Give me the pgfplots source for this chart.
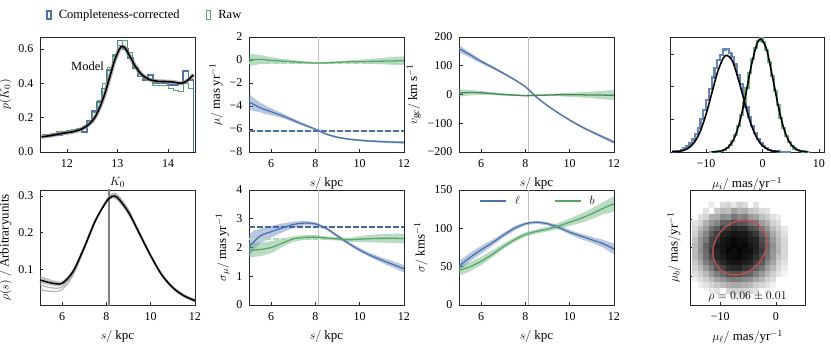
\documentclass[border=0pt]{standalone}
\usepackage{fontspec}
\setmainfont{Liberation Serif}
\usepackage{pgfplots}
\pgfplotsset{compat=1.18}
\usepackage{pgfplotstable}

\definecolor{cBlue}{HTML}{4C72B0}
\definecolor{cGreen}{HTML}{55A868}
\definecolor{cRed}{HTML}{C44E52}

\pgfplotsset{
  panel/.style={
    scale only axis, anchor=south west,
    axis line style={black!85, line width=0.7pt},
    tick align=inside, xtick pos=left, ytick pos=left,
    major tick length=3.5pt,
    tick style={black!85, line width=0.6pt},
    /pgf/number format/assume math mode=true,
    tick label style={font=\fontsize{12}{14}\selectfont},
    xticklabel style={yshift=-4pt},
    yticklabel style={xshift=-3pt},
    label style={font=\fontsize{13}{15}\selectfont},
    xlabel style={yshift=-3pt},
  },
  band/.style={draw=none, fill=#1, fill opacity=0.4, forget plot},
  mid/.style={draw=#1, line width=1.3pt, smooth},
  hline/.style={color=#1, line width=1.8pt, dash pattern=on 5.5pt off 2.5pt},
  vline/.style={draw=black!25, line width=1.3pt, forget plot},
}

\pgfplotstableread{
s muL muB vL vB sL sB kL kB
5.0 -3.65 0.00 160 5 2.02 1.90 51 45
5.5 -4.15 0.05 138 7 2.40 1.93 62 50
6.0 -4.50 -0.03 115 6 2.55 2.00 72 57
6.5 -4.85 -0.10 95 3 2.68 2.15 81 66
7.0 -5.25 -0.16 74 0 2.80 2.30 91 76
7.5 -5.65 -0.22 52 -2 2.85 2.35 100 85
8.0 -6.02 -0.26 27 -4 2.82 2.36 106 92
8.5 -6.45 -0.25 -9 -3 2.66 2.33 108 96
9.0 -6.72 -0.20 -39 -2 2.40 2.30 106 99
9.5 -6.88 -0.16 -65 -1 2.14 2.27 101 103
10.0 -6.98 -0.14 -89 -1 1.91 2.29 95 108
10.5 -7.05 -0.12 -111 -1 1.72 2.31 90 113
11.0 -7.10 -0.10 -130 -2 1.56 2.32 85 119
11.5 -7.14 -0.08 -148 -2 1.41 2.32 80 126
12.0 -7.17 -0.06 -166 -3 1.26 2.31 73 132
}\tLines

\pgfplotstableread{
s c0 c1 c2 c3 c4 c5
5.0 0.071 0.080 0.058 0.045 0.075 0.065
5.5 0.063 0.070 0.050 0.040 0.066 0.058
6.0 0.062 0.066 0.052 0.045 0.063 0.058
6.5 0.095 0.098 0.090 0.085 0.096 0.093
7.0 0.160 0.162 0.158 0.155 0.163 0.160
7.5 0.232 0.234 0.232 0.230 0.236 0.233
8.0 0.284 0.287 0.285 0.288 0.283 0.288
8.25 0.298 0.301 0.300 0.305 0.294 0.303
8.5 0.295 0.297 0.297 0.303 0.289 0.299
9.0 0.255 0.256 0.258 0.262 0.250 0.257
9.5 0.196 0.195 0.199 0.200 0.193 0.196
10.0 0.137 0.135 0.140 0.138 0.136 0.136
10.5 0.085 0.083 0.088 0.085 0.086 0.084
11.0 0.050 0.048 0.053 0.050 0.052 0.049
11.5 0.028 0.026 0.030 0.028 0.031 0.027
12.0 0.015 0.013 0.016 0.014 0.018 0.012
}\tRho

\begin{document}
\begin{tikzpicture}
\useasboundingbox (0pt,0pt) rectangle (831pt,349pt);

% ---------- p(K0)
\begin{axis}[panel, at={(40pt,197pt)}, width=155pt, height=115pt,
  xmin=11.47, xmax=14.53, ymin=0, ymax=0.67,
  xtick={12,13,14}, ytick={0,0.2,0.4,0.6},
  y tick label style={/pgf/number format/.cd, fixed, fixed zerofill, precision=1},
  xlabel={$K_0$}, ylabel={$p(K_0)$},
  legend style={at={(0.61,1.19)}, anchor=center, xshift=10pt, draw=none, fill=none,
    legend columns=2, font=\fontsize{12.5}{14}\selectfont},
]
\addlegendimage{legend image code/.code={\draw[cBlue, line width=2pt] (0pt,-4pt) rectangle (4pt,4pt);}}
\addlegendentry{\rule{5pt}{0pt}Completeness-corrected\rule{24pt}{0pt}}
\addlegendimage{legend image code/.code={\draw[cGreen, line width=1.2pt] (0pt,-4.4pt) rectangle (4.6pt,4.4pt);}}
\addlegendentry{\rule{5pt}{0pt}Raw}
\addplot[cBlue, line width=1.8pt, const plot, forget plot] coordinates {
(11.5,0.09) (11.6,0.095) (11.7,0.10) (11.8,0.10) (11.9,0.11) (12.0,0.115)
(12.1,0.12) (12.2,0.13) (12.3,0.115) (12.4,0.18) (12.5,0.24) (12.6,0.29)
(12.7,0.37) (12.8,0.48) (12.9,0.56) (13.0,0.65) (13.1,0.60) (13.2,0.55)
(13.3,0.49) (13.4,0.44) (13.5,0.42) (13.6,0.45) (13.7,0.40) (13.8,0.40)
(13.9,0.40) (14.0,0.39) (14.1,0.39) (14.2,0.40) (14.3,0.47) (14.4,0.42)
(14.5,0.42) (14.5,0)};
\addplot[cGreen, line width=1pt, const plot, forget plot] coordinates {
(11.5,0.10) (11.6,0.10) (11.7,0.11) (11.8,0.12) (11.9,0.12) (12.0,0.125)
(12.1,0.13) (12.2,0.135) (12.3,0.15) (12.4,0.18) (12.5,0.23) (12.6,0.30)
(12.7,0.40) (12.8,0.49) (12.9,0.57) (13.0,0.62) (13.1,0.65) (13.2,0.58)
(13.3,0.50) (13.4,0.45) (13.5,0.43) (13.6,0.42) (13.7,0.39) (13.8,0.39)
(13.9,0.39) (14.0,0.37) (14.1,0.36) (14.2,0.35) (14.3,0.40) (14.4,0.37)
(14.5,0.37)};
\addplot[black!45, line width=4pt, opacity=0.7, smooth, forget plot] coordinates {
(11.5,0.088) (11.7,0.097) (11.9,0.108) (12.1,0.117) (12.3,0.135) (12.45,0.165)
(12.55,0.20) (12.65,0.26) (12.75,0.34) (12.85,0.44) (12.95,0.54) (13.05,0.605)
(13.1,0.615) (13.15,0.605) (13.25,0.555) (13.35,0.50) (13.45,0.46) (13.55,0.435)
(13.65,0.42) (13.8,0.412) (14.0,0.41) (14.15,0.405) (14.25,0.40) (14.35,0.41)
(14.45,0.435) (14.5,0.45)};
\addplot[black, line width=1.6pt, smooth, forget plot] coordinates {
(11.5,0.088) (11.7,0.097) (11.9,0.108) (12.1,0.117) (12.3,0.135) (12.45,0.165)
(12.55,0.20) (12.65,0.26) (12.75,0.34) (12.85,0.44) (12.95,0.54) (13.05,0.605)
(13.1,0.615) (13.15,0.605) (13.25,0.555) (13.35,0.50) (13.45,0.46) (13.55,0.435)
(13.65,0.42) (13.8,0.412) (14.0,0.41) (14.15,0.405) (14.25,0.40) (14.35,0.41)
(14.45,0.435) (14.5,0.45)};
\node[anchor=east, font=\fontsize{12.5}{14}\selectfont] at (axis cs:12.8,0.50) {Model};
\end{axis}

% ---------- mu vs s
\begin{axis}[panel, at={(249pt,197pt)}, width=155pt, height=115pt,
  xmin=5, xmax=12, ymin=-8, ymax=2,
  xtick={6,8,10,12}, ytick={-8,-6,-4,-2,0,2}, yticklabels={−8,−6,−4,−2,0,2},
  xlabel={$s/\ \mathrm{kpc}$}, ylabel={$\mu/\ \mathrm{mas\,yr^{-1}}$}]
\addplot[vline] coordinates {(8.15,-8) (8.15,2)};
\addplot[band=cBlue] coordinates {
(5.0,-2.95) (5.25,-3.35) (5.5,-3.70) (5.75,-3.95) (6.0,-4.20) (6.5,-4.62) (7.0,-5.08)
(7.5,-5.52) (8.0,-5.94) (8.5,-6.37) (9.0,-6.64) (9.5,-6.80) (10.0,-6.90) (10.5,-6.96)
(11.0,-7.00) (11.5,-7.04) (12.0,-7.06)
(12.0,-7.28) (11.5,-7.24) (11.0,-7.20) (10.5,-7.14) (10.0,-7.06) (9.5,-6.96) (9.0,-6.80)
(8.5,-6.53) (8.0,-6.10) (7.5,-5.77) (7.0,-5.40) (6.5,-5.05) (6.0,-4.80) (5.75,-4.70)
(5.5,-4.55) (5.25,-4.45) (5.0,-4.30)};
\addplot[band=cGreen] coordinates {
(5.0,0.55) (5.5,0.45) (6.0,0.25) (6.5,0.10) (7.0,0.00) (7.5,-0.12) (8.0,-0.18) (8.5,-0.17)
(9.0,-0.10) (9.5,-0.04) (10.0,0.02) (10.5,0.10) (11.0,0.18) (11.5,0.26) (12.0,0.33)
(12.0,-0.45) (11.5,-0.42) (11.0,-0.38) (10.5,-0.34) (10.0,-0.30) (9.5,-0.28) (9.0,-0.30)
(8.5,-0.33) (8.0,-0.34) (7.5,-0.32) (7.0,-0.30) (6.5,-0.30) (6.0,-0.30) (5.5,-0.35) (5.0,-0.55)};
\addplot[hline=cBlue] coordinates {(5,-6.2) (12,-6.2)};
\addplot[hline=cGreen!45!white] coordinates {(5,-0.27) (12,-0.27)};
\addplot[mid=cBlue] table[x=s,y=muL]{\tLines};
\addplot[mid=cGreen] table[x=s,y=muB]{\tLines};
\end{axis}

% ---------- v_gc vs s
\begin{axis}[panel, at={(459pt,197pt)}, width=155pt, height=115pt,
  xmin=5, xmax=12, ymin=-200, ymax=200,
  xtick={6,8,10,12}, ytick={-200,-100,0,100,200}, yticklabels={−200,−100,0,100,200},
  xlabel={$s/\ \mathrm{kpc}$}, ylabel={$v_{\mathrm{gc}}/\ \mathrm{km\,s^{-1}}$}]
\addplot[vline] coordinates {(8.15,-200) (8.15,200)};
\addplot[band=cBlue] coordinates {
(5.0,172) (5.5,146) (6.0,121) (6.5,100) (7.0,78) (7.5,55) (8.0,30) (8.5,-6) (9.0,-36)
(9.5,-62) (10.0,-86) (10.5,-107) (11.0,-126) (11.5,-143) (12.0,-160)
(12.0,-172) (11.5,-153) (11.0,-134) (10.5,-115) (10.0,-92) (9.5,-68) (9.0,-42) (8.5,-12)
(8.0,24) (7.5,49) (7.0,70) (6.5,90) (6.0,108) (5.5,128) (5.0,148)};
\addplot[band=cGreen] coordinates {
(5.0,18) (5.5,16) (6.0,12) (6.5,8) (7.0,4) (7.5,1) (8.0,-1) (8.5,0) (9.0,2) (9.5,4)
(10.0,6) (10.5,8) (11.0,10) (11.5,13) (12.0,16)
(12.0,-20) (11.5,-16) (11.0,-13) (10.5,-10) (10.0,-8) (9.5,-6) (9.0,-6) (8.5,-6) (8.0,-7)
(7.5,-5) (7.0,-4) (6.5,-2) (6.0,-1) (5.5,-3) (5.0,-8)};
\addplot[mid=cBlue] table[x=s,y=vL]{\tLines};
\addplot[mid=cGreen!80!black] table[x=s,y=vB]{\tLines};
\end{axis}

% ---------- proper motion histograms
\begin{axis}[panel, at={(670pt,197pt)}, width=154pt, height=115pt,
  xmin=-16.4, xmax=10.9, ymin=0, ymax=0.176,
  xtick={-10,0,10}, xticklabels={−10,0,10}, ytick={0.05,0.1,0.15}, yticklabels={},
  xlabel={$\mu_i/\ \mathrm{mas/yr^{-1}}$}]
\addplot[cBlue!85!white, line width=2.2pt, const plot] coordinates {
(-16,0.0007) (-15.5,0.0012) (-15,0.002) (-14.5,0.0034) (-14,0.0055) (-13.5,0.0085)
(-13,0.013) (-12.5,0.019) (-12,0.027) (-11.5,0.037) (-11,0.050) (-10.5,0.064)
(-10,0.080) (-9.5,0.097) (-9,0.114) (-8.5,0.128) (-8,0.141) (-7.5,0.148)
(-7,0.157) (-6.5,0.158) (-6,0.152) (-5.5,0.146) (-5,0.134) (-4.5,0.118)
(-4,0.104) (-3.5,0.087) (-3,0.069) (-2.5,0.053) (-2,0.040) (-1.5,0.029)
(-1,0.020) (-0.5,0.014) (0,0.009) (0.5,0.006) (1,0.0035) (1.5,0.002)
(2,0.0012) (2.5,0.0007) (3,0.0004) (3.5,0.0002) (4,0.0001) (4.5,0) (5,0)};
\addplot[cGreen!85!white, line width=2.2pt, const plot] coordinates {
(-9.5,0.0001) (-9,0.0002) (-8.5,0.0004) (-8,0.0009) (-7.5,0.0018) (-7,0.0034)
(-6.5,0.0061) (-6,0.0104) (-5.5,0.0171) (-5,0.0266) (-4.5,0.0396) (-4,0.0562)
(-3.5,0.0760) (-3,0.0981) (-2.5,0.1208) (-2,0.1418) (-1.5,0.1589) (-1,0.1697)
(-0.5,0.1745) (0,0.1681) (0.5,0.1559) (1,0.1379) (1.5,0.1163) (2,0.0936)
(2.5,0.0718) (3,0.0526) (3.5,0.0367) (4,0.0245) (4.5,0.0155) (5,0.0094)
(5.5,0.0054) (6,0.0030) (6.5,0.0016) (7,0.0008) (7.5,0.0004) (8,0.0002) (8.5,0.0002)};
\addplot[black, line width=1.6pt, smooth] coordinates {
(-16,0.0002) (-15,0.0008) (-14,0.0025) (-13,0.0068) (-12,0.0159) (-11,0.0325)
(-10,0.0579) (-9,0.0898) (-8,0.1214) (-7,0.1431) (-6.3,0.148) (-5.5,0.1417)
(-5,0.1318) (-4,0.1030) (-3,0.0701) (-2,0.0416) (-1,0.0215) (0,0.0097)
(1,0.0038) (2,0.0013) (3,0.0004)};
\addplot[black, line width=1.6pt, smooth] coordinates {
(-9,0.0001) (-8,0.0006) (-7,0.0025) (-6,0.0080) (-5,0.0214) (-4,0.0474)
(-3,0.0869) (-2,0.1317) (-1,0.1652) (-0.3,0.173) (0.5,0.1625) (1,0.1475)
(2,0.1049) (3,0.0618) (4,0.0301) (5,0.0122) (6,0.0041) (7,0.0011) (8,0.0003)};
\end{axis}

% ---------- rho(s)
\begin{axis}[panel, at={(40pt,44pt)}, width=155pt, height=115pt,
  xmin=5, xmax=12, ymin=0.003, ymax=0.316,
  xtick={6,8,10,12}, ytick={0.1,0.2,0.3},
  xlabel={$s/\ \mathrm{kpc}$}, ylabel={$\rho(s)\ /\ \mathrm{Arbitrary units}$}]
\addplot[black!50, line width=1.2pt] coordinates {(8.12,0) (8.12,0.32)};
\addplot[black!45, line width=1.3pt, opacity=0.6, smooth] table[x=s,y=c1]{\tRho};
\addplot[black!45, line width=1.3pt, opacity=0.6, smooth] table[x=s,y=c2]{\tRho};
\addplot[black!45, line width=1.3pt, opacity=0.6, smooth] table[x=s,y=c3]{\tRho};
\addplot[black!45, line width=1.3pt, opacity=0.6, smooth] table[x=s,y=c4]{\tRho};
\addplot[black!45, line width=1.3pt, opacity=0.6, smooth] table[x=s,y=c5]{\tRho};
\addplot[black, line width=1.5pt, smooth] table[x=s,y=c0]{\tRho};
\end{axis}

% ---------- sigma_mu
\begin{axis}[panel, at={(249pt,44pt)}, width=155pt, height=115pt,
  xmin=5, xmax=12, ymin=0, ymax=4,
  xtick={6,8,10,12}, ytick={0,1,2,3,4},
  xlabel={$s/\ \mathrm{kpc}$}, ylabel={$\sigma_\mu/\ \mathrm{mas\,yr^{-1}}$}]
\addplot[vline] coordinates {(8.15,0) (8.15,4)};
\addplot[band=cBlue] coordinates {
(5.0,2.45) (5.25,2.60) (5.5,2.65) (6.0,2.75) (6.5,2.84) (7.0,2.90) (7.5,2.93) (8.0,2.88)
(8.5,2.71) (9.0,2.45) (9.5,2.20) (10.0,1.98) (10.5,1.80) (11.0,1.65) (11.5,1.52) (12.0,1.39)
(12.0,1.13) (11.5,1.30) (11.0,1.47) (10.5,1.65) (10.0,1.85) (9.5,2.09) (9.0,2.35) (8.5,2.61)
(8.0,2.76) (7.5,2.77) (7.0,2.68) (6.5,2.52) (6.0,2.35) (5.5,2.15) (5.25,1.95) (5.0,1.70)};
\addplot[band=cGreen] coordinates {
(5.0,2.15) (5.5,2.17) (6.0,2.22) (6.5,2.30) (7.0,2.40) (7.5,2.43) (8.0,2.43) (8.5,2.39)
(9.0,2.36) (9.5,2.34) (10.0,2.39) (10.5,2.44) (11.0,2.47) (11.5,2.48) (12.0,2.48)
(12.0,2.14) (11.5,2.16) (11.0,2.17) (10.5,2.18) (10.0,2.19) (9.5,2.20) (9.0,2.24) (8.5,2.27)
(8.0,2.29) (7.5,2.27) (7.0,2.20) (6.5,2.02) (6.0,1.80) (5.5,1.70) (5.0,1.65)};
\addplot[hline=cBlue!90!black] coordinates {(5,2.7) (12,2.7)};
\addplot[hline=cGreen!45!white] coordinates {(5,2.3) (12,2.3)};
\addplot[mid=cBlue] table[x=s,y=sL]{\tLines};
\addplot[mid=cGreen] table[x=s,y=sB]{\tLines};
\end{axis}

% ---------- sigma km/s
\begin{axis}[panel, at={(459pt,44pt)}, width=155pt, height=115pt,
  xmin=5, xmax=12, ymin=0, ymax=150,
  xtick={6,8,10,12}, ytick={0,50,100,150},
  xlabel={$s/\ \mathrm{kpc}$}, ylabel={$\sigma/\ \mathrm{kms^{-1}}$},
  legend style={at={(0.51,0.985)}, anchor=north, draw=none, fill=none,
    legend columns=2, font=\fontsize{13}{15}\selectfont},
  legend image code/.code={\draw[#1, line width=1.5pt] (0pt,0pt) -- (26pt,0pt);}]
\addplot[vline] coordinates {(8.15,0) (8.15,150)};
\addplot[band=cBlue] coordinates {
(5.0,57) (5.5,68) (6.0,77) (6.5,85) (7.0,94) (7.5,103) (8.0,108) (8.5,110) (9.0,108)
(9.5,104) (10.0,98) (10.5,93) (11.0,89) (11.5,85) (12.0,80)
(12.0,66) (11.5,75) (11.0,81) (10.5,86) (10.0,92) (9.5,99) (9.0,104) (8.5,106) (8.0,104)
(7.5,97) (7.0,88) (6.5,77) (6.0,67) (5.5,57) (5.0,45)};
\addplot[band=cGreen] coordinates {
(5.0,52) (5.5,56) (6.0,63) (6.5,71) (7.0,80) (7.5,88) (8.0,95) (8.5,99) (9.0,102)
(9.5,107) (10.0,113) (10.5,119) (11.0,126) (11.5,134) (12.0,142)
(12.0,122) (11.5,118) (11.0,112) (10.5,107) (10.0,103) (9.5,99) (9.0,96) (8.5,93) (8.0,89)
(7.5,82) (7.0,73) (6.5,62) (6.0,52) (5.5,44) (5.0,38)};
\addplot[mid=cBlue] table[x=s,y=kL]{\tLines};
\addplot[mid=cGreen] table[x=s,y=kB]{\tLines};
\legend{\rule{6pt}{0pt}$\ell$\rule{32pt}{0pt},\rule{6pt}{0pt}$b$}
\end{axis}

% ---------- 2D histogram
\begin{axis}[panel, at={(690pt,44pt)}, width=115pt, height=115pt,
  xmin=-15.4, xmax=5.2, ymin=-10.1, ymax=10.1,
  xtick={-10,0}, xticklabels={−10,0}, ytick={-5,0,5}, yticklabels={},
  xlabel={$\mu_\ell/\ \mathrm{mas/yr^{-1}}$}, ylabel={$\mu_b/\ \mathrm{mas/yr^{-1}}$},
  ylabel style={yshift=-4pt},
  colormap={greys}{rgb255(0cm)=(255,255,255); rgb255(0.5cm)=(248,248,248); rgb255(2cm)=(232,232,232); rgb255(4cm)=(205,205,205); rgb255(6cm)=(150,150,150); rgb255(7.5cm)=(90,90,90); rgb255(8.6cm)=(40,40,40); rgb255(10cm)=(5,5,5)},
  point meta min=0, point meta max=1]
\addplot[matrix plot*, mesh/cols=17, point meta=explicit] coordinates {
(-14.5,-8.5)[0] (-13.5,-8.5)[0] (-12.5,-8.5)[0] (-11.5,-8.5)[0] (-10.5,-8.5)[0] (-9.5,-8.5)[0.13] (-8.5,-8.5)[0] (-7.5,-8.5)[0.19] (-6.5,-8.5)[0.18] (-5.5,-8.5)[0.17] (-4.5,-8.5)[0] (-3.5,-8.5)[0.08] (-2.5,-8.5)[0] (-1.5,-8.5)[0] (-0.5,-8.5)[0] (0.5,-8.5)[0] (1.5,-8.5)[0]
(-14.5,-7.5)[0] (-13.5,-7.5)[0] (-12.5,-7.5)[0] (-11.5,-7.5)[0.17] (-10.5,-7.5)[0.26] (-9.5,-7.5)[0] (-8.5,-7.5)[0.35] (-7.5,-7.5)[0.37] (-6.5,-7.5)[0.36] (-5.5,-7.5)[0.34] (-4.5,-7.5)[0.31] (-3.5,-7.5)[0.25] (-2.5,-7.5)[0] (-1.5,-7.5)[0.12] (-0.5,-7.5)[0] (0.5,-7.5)[0] (1.5,-7.5)[0]
(-14.5,-6.5)[0] (-13.5,-6.5)[0.14] (-12.5,-6.5)[0.24] (-11.5,-6.5)[0.34] (-10.5,-6.5)[0.42] (-9.5,-6.5)[0.46] (-8.5,-6.5)[0.51] (-7.5,-6.5)[0.53] (-6.5,-6.5)[0.52] (-5.5,-6.5)[0.5] (-4.5,-6.5)[0.47] (-3.5,-6.5)[0.4] (-2.5,-6.5)[0.33] (-1.5,-6.5)[0.25] (-0.5,-6.5)[0.12] (0.5,-6.5)[0] (1.5,-6.5)[0]
(-14.5,-5.5)[0.15] (-13.5,-5.5)[0.26] (-12.5,-5.5)[0.39] (-11.5,-5.5)[0.46] (-10.5,-5.5)[0.55] (-9.5,-5.5)[0.6] (-8.5,-5.5)[0.65] (-7.5,-5.5)[0.66] (-6.5,-5.5)[0.65] (-5.5,-5.5)[0.63] (-4.5,-5.5)[0.61] (-3.5,-5.5)[0.54] (-2.5,-5.5)[0.48] (-1.5,-5.5)[0.37] (-0.5,-5.5)[0.28] (0.5,-5.5)[0] (1.5,-5.5)[0]
(-14.5,-4.5)[0.26] (-13.5,-4.5)[0.39] (-12.5,-4.5)[0.48] (-11.5,-4.5)[0.59] (-10.5,-4.5)[0.66] (-9.5,-4.5)[0.71] (-8.5,-4.5)[0.76] (-7.5,-4.5)[0.77] (-6.5,-4.5)[0.78] (-5.5,-4.5)[0.74] (-4.5,-4.5)[0.72] (-3.5,-4.5)[0.65] (-2.5,-4.5)[0.59] (-1.5,-4.5)[0.48] (-0.5,-4.5)[0.39] (0.5,-4.5)[0.24] (1.5,-4.5)[0.1]
(-14.5,-3.5)[0.35] (-13.5,-3.5)[0.46] (-12.5,-3.5)[0.59] (-11.5,-3.5)[0.67] (-10.5,-3.5)[0.76] (-9.5,-3.5)[0.8] (-8.5,-3.5)[0.85] (-7.5,-3.5)[0.86] (-6.5,-3.5)[0.87] (-5.5,-3.5)[0.83] (-4.5,-3.5)[0.81] (-3.5,-3.5)[0.74] (-2.5,-3.5)[0.68] (-1.5,-3.5)[0.57] (-0.5,-3.5)[0.48] (0.5,-3.5)[0.33] (1.5,-3.5)[0.19]
(-14.5,-2.5)[0.42] (-13.5,-2.5)[0.53] (-12.5,-2.5)[0.66] (-11.5,-2.5)[0.73] (-10.5,-2.5)[0.82] (-9.5,-2.5)[0.86] (-8.5,-2.5)[0.92] (-7.5,-2.5)[0.93] (-6.5,-2.5)[0.93] (-5.5,-2.5)[0.9] (-4.5,-2.5)[0.88] (-3.5,-2.5)[0.81] (-2.5,-2.5)[0.75] (-1.5,-2.5)[0.64] (-0.5,-2.5)[0.55] (0.5,-2.5)[0.4] (1.5,-2.5)[0.25]
(-14.5,-1.5)[0.47] (-13.5,-1.5)[0.58] (-12.5,-1.5)[0.7] (-11.5,-1.5)[0.78] (-10.5,-1.5)[0.87] (-9.5,-1.5)[0.91] (-8.5,-1.5)[0.96] (-7.5,-1.5)[0.97] (-6.5,-1.5)[0.98] (-5.5,-1.5)[0.95] (-4.5,-1.5)[0.92] (-3.5,-1.5)[0.85] (-2.5,-1.5)[0.79] (-1.5,-1.5)[0.69] (-0.5,-1.5)[0.59] (0.5,-1.5)[0.44] (1.5,-1.5)[0.32]
(-14.5,-0.5)[0.46] (-13.5,-0.5)[0.62] (-12.5,-0.5)[0.71] (-11.5,-0.5)[0.82] (-10.5,-0.5)[0.88] (-9.5,-0.5)[0.93] (-8.5,-0.5)[0.99] (-7.5,-0.5)[0.97] (-6.5,-0.5)[1.0] (-5.5,-0.5)[0.96] (-4.5,-0.5)[0.95] (-3.5,-0.5)[0.88] (-2.5,-0.5)[0.82] (-1.5,-0.5)[0.71] (-0.5,-0.5)[0.6] (0.5,-0.5)[0.49] (1.5,-0.5)[0.31]
(-14.5,0.5)[0.48] (-13.5,0.5)[0.6] (-12.5,0.5)[0.73] (-11.5,0.5)[0.8] (-10.5,0.5)[0.89] (-9.5,0.5)[0.94] (-8.5,0.5)[0.97] (-7.5,0.5)[1.0] (-6.5,0.5)[0.98] (-5.5,0.5)[0.99] (-4.5,0.5)[0.93] (-3.5,0.5)[0.89] (-2.5,0.5)[0.8] (-1.5,0.5)[0.72] (-0.5,0.5)[0.62] (0.5,0.5)[0.47] (1.5,0.5)[0.33]
(-14.5,1.5)[0.45] (-13.5,1.5)[0.6] (-12.5,1.5)[0.68] (-11.5,1.5)[0.8] (-10.5,1.5)[0.85] (-9.5,1.5)[0.93] (-8.5,1.5)[0.95] (-7.5,1.5)[0.98] (-6.5,1.5)[0.96] (-5.5,1.5)[0.96] (-4.5,1.5)[0.9] (-3.5,1.5)[0.87] (-2.5,1.5)[0.78] (-1.5,1.5)[0.7] (-0.5,1.5)[0.58] (0.5,1.5)[0.46] (1.5,1.5)[0.3]
(-14.5,2.5)[0.4] (-13.5,2.5)[0.55] (-12.5,2.5)[0.64] (-11.5,2.5)[0.75] (-10.5,2.5)[0.81] (-9.5,2.5)[0.88] (-8.5,2.5)[0.9] (-7.5,2.5)[0.94] (-6.5,2.5)[0.92] (-5.5,2.5)[0.91] (-4.5,2.5)[0.86] (-3.5,2.5)[0.82] (-2.5,2.5)[0.74] (-1.5,2.5)[0.66] (-0.5,2.5)[0.53] (0.5,2.5)[0.42] (1.5,2.5)[0.26]
(-14.5,3.5)[0.33] (-13.5,3.5)[0.48] (-12.5,3.5)[0.57] (-11.5,3.5)[0.69] (-10.5,3.5)[0.74] (-9.5,3.5)[0.82] (-8.5,3.5)[0.83] (-7.5,3.5)[0.87] (-6.5,3.5)[0.85] (-5.5,3.5)[0.85] (-4.5,3.5)[0.79] (-3.5,3.5)[0.76] (-2.5,3.5)[0.66] (-1.5,3.5)[0.6] (-0.5,3.5)[0.46] (0.5,3.5)[0.35] (1.5,3.5)[0.2]
(-14.5,4.5)[0.25] (-13.5,4.5)[0.36] (-12.5,4.5)[0.5] (-11.5,4.5)[0.6] (-10.5,4.5)[0.64] (-9.5,4.5)[0.73] (-8.5,4.5)[0.74] (-7.5,4.5)[0.79] (-6.5,4.5)[0.76] (-5.5,4.5)[0.75] (-4.5,4.5)[0.7] (-3.5,4.5)[0.67] (-2.5,4.5)[0.57] (-1.5,4.5)[0.5] (-0.5,4.5)[0.37] (0.5,4.5)[0.27] (1.5,4.5)[0]
(-14.5,5.5)[0] (-13.5,5.5)[0.27] (-12.5,5.5)[0.35] (-11.5,5.5)[0.5] (-10.5,5.5)[0.52] (-9.5,5.5)[0.62] (-8.5,5.5)[0.6] (-7.5,5.5)[0.68] (-6.5,5.5)[0.64] (-5.5,5.5)[0.66] (-4.5,5.5)[0.58] (-3.5,5.5)[0.55] (-2.5,5.5)[0.45] (-1.5,5.5)[0.4] (-0.5,5.5)[0.25] (0.5,5.5)[0.14] (1.5,5.5)[0]
(-14.5,6.5)[0] (-13.5,6.5)[0] (-12.5,6.5)[0.25] (-11.5,6.5)[0] (-10.5,6.5)[0.41] (-9.5,6.5)[0.47] (-8.5,6.5)[0.45] (-7.5,6.5)[0.56] (-6.5,6.5)[0.5] (-5.5,6.5)[0.52] (-4.5,6.5)[0.44] (-3.5,6.5)[0.41] (-2.5,6.5)[0.3] (-1.5,6.5)[0.25] (-0.5,6.5)[0] (0.5,6.5)[0] (1.5,6.5)[0]
(-14.5,7.5)[0] (-13.5,7.5)[0] (-12.5,7.5)[0] (-11.5,7.5)[0.18] (-10.5,7.5)[0] (-9.5,7.5)[0.3] (-8.5,7.5)[0.35] (-7.5,7.5)[0.2] (-6.5,7.5)[0.37] (-5.5,7.5)[0.3] (-4.5,7.5)[0] (-3.5,7.5)[0.25] (-2.5,7.5)[0] (-1.5,7.5)[0] (-0.5,7.5)[0] (0.5,7.5)[0] (1.5,7.5)[0]
};
\addplot[cRed, line width=1.3pt, smooth] coordinates {
(-1.70,0.80) (-1.86,2.00) (-2.34,3.07) (-3.11,3.93) (-4.10,4.51) (-5.26,4.80)
(-6.50,4.75) (-7.74,4.38) (-8.90,3.71) (-9.89,2.79) (-10.66,1.68) (-11.14,0.46)
(-11.30,-0.80) (-11.14,-2.00) (-10.66,-3.07) (-9.89,-3.93) (-8.90,-4.51) (-7.74,-4.80)
(-6.50,-4.75) (-5.26,-4.38) (-4.10,-3.71) (-3.11,-2.79) (-2.34,-1.68) (-1.86,-0.46)
(-1.70,0.80) (-1.86,2.00)};
\node[anchor=south, font=\fontsize{12.5}{14}\selectfont] at (rel axis cs:0.5,0.0) {$\rho=0.06\pm0.01$};
\end{axis}
\end{tikzpicture}
\end{document}
